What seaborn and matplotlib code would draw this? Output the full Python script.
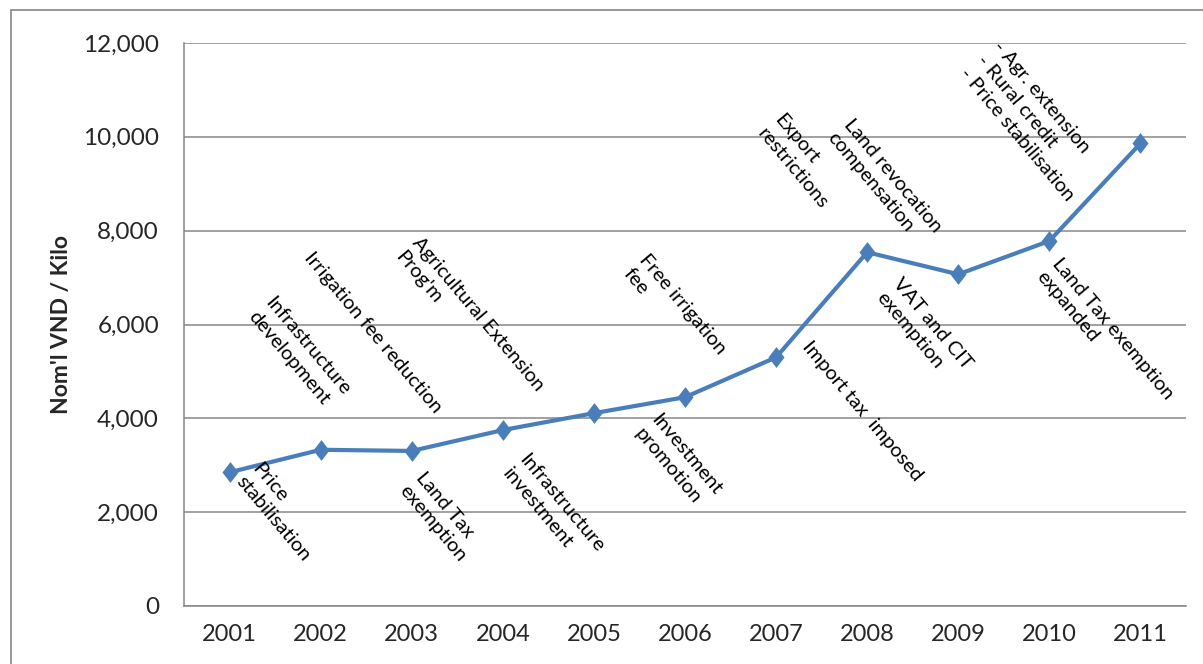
import matplotlib
matplotlib.use("Agg")
import matplotlib.pyplot as plt
import matplotlib.ticker as mticker
from matplotlib.patches import Rectangle
import numpy as np
import pandas as pd
import seaborn as sns

years = ["2001", "2002", "2003", "2004", "2005", "2006",
         "2007", "2008", "2009", "2010", "2011"]
price = [2850, 3330, 3305, 3750, 4110, 4450, 5300, 7540, 7070, 7780, 9860]

notes = [
    "Price\nstabilisation",
    "Infrastructure\ndevelopment",
    "Irrigation fee reduction",
    "Agricultural Extension\nProg'm",
    "Land Tax\nexemption",
    "Infrastructure\ninvestment",
    "Free irrigation\nfee",
    "Investment\npromotion",
    "Export\nrestrictions",
    "Land revocation\ncompensation",
    "Import tax  imposed",
    "VAT and CIT\nexemption",
    "- Agr. extension\n- Rural credit\n- Price stabilisation",
    "Land Tax exemption\nexpanded",
]
# where each note's first letter sits (category index, value)
note_x = [0.36, 0.50, 0.93, 2.11, 2.15, 3.29, 4.61, 4.74, 6.09, 6.85, 6.39, 7.39, 8.49, 9.14]
note_y = [3120, 6650, 7600, 7930, 2930, 3310, 7570, 4160, 10550, 10450, 5720, 7060, 12110, 7490]

sns.set_style("white")
plt.rcParams["font.family"] = ["Lato", "DejaVu Sans"]

df = pd.DataFrame({"pos": np.arange(len(years)), "price": price})

fig = plt.figure(figsize=(12.03, 6.64), dpi=100)
ax = fig.add_axes([184 / 1203, 1 - 606 / 664, (1186 - 184) / 1203, (606 - 43) / 664])

diamond = [(-0.77, 0), (0, 1), (0.77, 0), (0, -1), (-0.77, 0)]
sns.lineplot(data=df, x="pos", y="price", ax=ax, color="#4A7EBB", linewidth=3,
             marker=diamond, markersize=15, markeredgewidth=0)

for txt, tx, ty in zip(notes, note_x, note_y):
    ax.text(tx, ty, txt, rotation=-50, rotation_mode="anchor", ha="left", va="top",
            multialignment="left", fontsize=14.5, linespacing=1.32, color="black")

ax.set_xlim(-0.5, len(years) - 0.5)
ax.set_ylim(0, 12000)
ax.set_xticks(df["pos"])
ax.set_xticklabels(years)
ax.set_yticks(range(0, 12001, 2000))
ax.yaxis.set_major_formatter(mticker.FuncFormatter(lambda v, p: f"{int(v):,}"))
ax.tick_params(axis="both", length=0)
ax.tick_params(axis="x", pad=13, labelsize=17)
ax.tick_params(axis="y", pad=18, labelsize=17.5)
ax.yaxis.grid(True, color="#868686", linewidth=1.1)
ax.xaxis.grid(False)
for side in ["top", "right"]:
    ax.spines[side].set_visible(False)
for side in ["left", "bottom"]:
    ax.spines[side].set_color("#868686")
    ax.spines[side].set_linewidth(1.1)
ax.set_xlabel("")
ax.set_ylabel("Nom'l VND / Kilo", fontsize=16.5, fontweight="bold", labelpad=8)

fig.patches.append(Rectangle((11 / 1203, -0.1), 1.2, 1.1 - 10 / 664, transform=fig.transFigure,
                             fill=False, edgecolor="#868686", linewidth=1.2))

fig.savefig("out.png", dpi=100)
